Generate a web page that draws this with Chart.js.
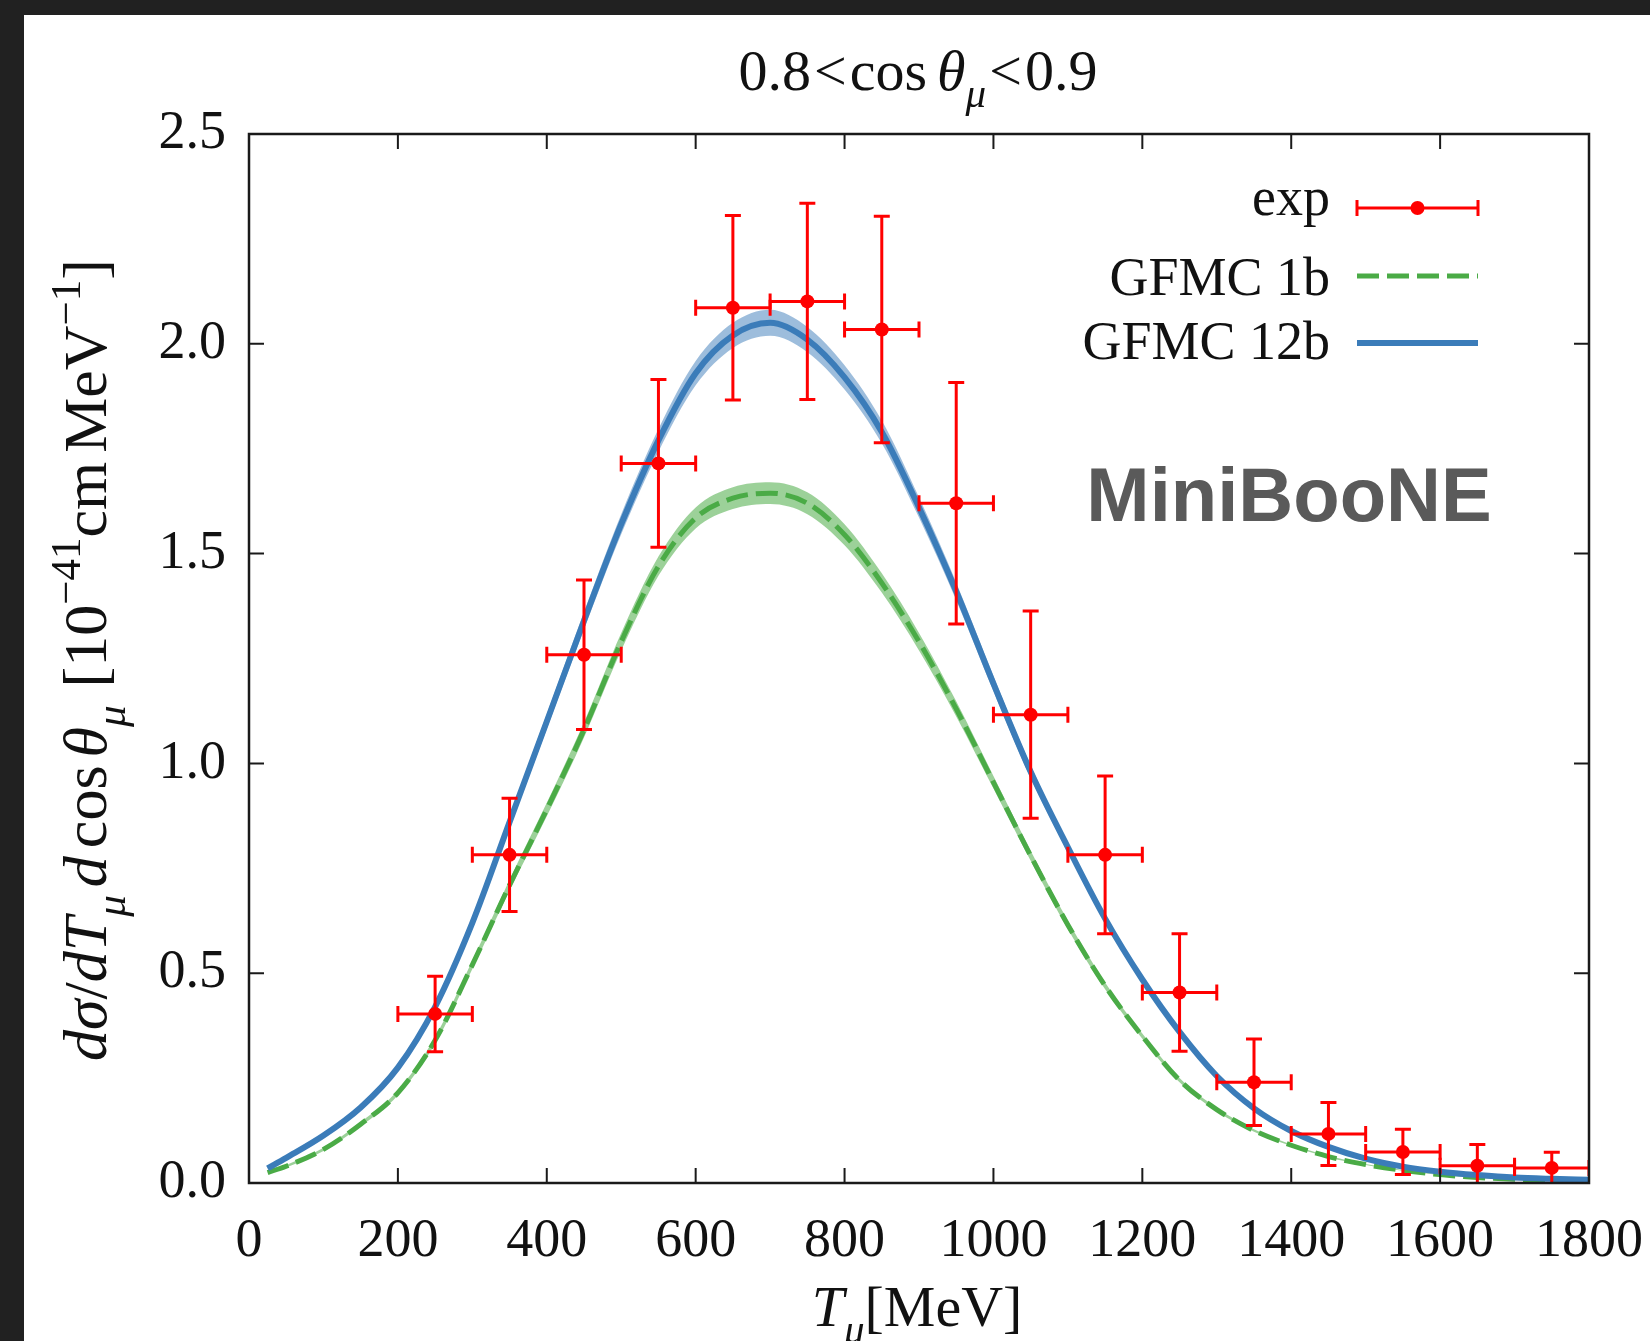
<!DOCTYPE html>
<html>
<head>
<meta charset="utf-8">
<script src="https://cdn.jsdelivr.net/npm/chart.js@4.4.1/dist/chart.umd.min.js"></script>
<style>
  html, body { margin: 0; padding: 0; background: #212121; }
  #chart { position: absolute; left: 0; top: 0; }
</style>
</head>
<body>
<canvas id="chart" width="1650" height="1341"></canvas>
<script>
// axis ticks
const xTicks = [0, 200, 400, 600, 800, 1000, 1200, 1400, 1600, 1800];
const yTicks = [0, 0.5, 1.0, 1.5, 2.0, 2.5];

// MiniBooNE data, 0.8 < cos < 0.9
const expT = [250, 350, 450, 550, 650, 750, 850, 950, 1050, 1150, 1250, 1350, 1450, 1550, 1650, 1750];
const expV = [0.403, 0.782, 1.259, 1.715, 2.086, 2.101, 2.034, 1.62, 1.116, 0.782, 0.454, 0.24, 0.117, 0.074, 0.041, 0.036];
const expErr = [0.09, 0.135, 0.178, 0.2, 0.22, 0.234, 0.27, 0.288, 0.247, 0.188, 0.14, 0.103, 0.075, 0.054, 0.051, 0.037];
const expXErr = [50, 50, 50, 50, 50, 50, 50, 50, 50, 50, 50, 50, 50, 50, 50, 50];

// GFMC curves
const modelT = [25, 50, 100, 150, 200, 250, 300, 350, 400, 450, 500, 550, 600, 650, 700, 750, 800, 850, 900,
  950, 1000, 1050, 1100, 1150, 1200, 1250, 1300, 1350, 1400, 1450, 1500, 1550, 1600, 1650, 1700, 1750, 1800];
const gfmc12b = [0.035, 0.06, 0.113, 0.18, 0.275, 0.42, 0.62, 0.86, 1.10, 1.34, 1.57, 1.77, 1.93, 2.02, 2.05, 2.01, 1.92, 1.79, 1.61,
  1.41, 1.19, 0.98, 0.80, 0.63, 0.485, 0.36, 0.255, 0.178, 0.124, 0.086, 0.058, 0.039, 0.027, 0.019, 0.013, 0.010, 0.008];
const gfmc12bBand = [0.002, 0.003, 0.004, 0.005, 0.007, 0.009, 0.012, 0.015, 0.018, 0.021, 0.024, 0.027, 0.029, 0.03, 0.031, 0.03, 0.029, 0.027, 0.024,
  0.021, 0.018, 0.015, 0.012, 0.01, 0.008, 0.006, 0.005, 0.004, 0.003, 0.002, 0.002, 0.001, 0.001, 0.001, 0.001, 0.001, 0.001];
const gfmc1b = [0.025, 0.04, 0.08, 0.14, 0.215, 0.34, 0.52, 0.71, 0.89, 1.08, 1.29, 1.47, 1.585, 1.632, 1.644, 1.62, 1.545, 1.43, 1.29,
  1.13, 0.955, 0.78, 0.615, 0.47, 0.35, 0.245, 0.175, 0.125, 0.09, 0.063, 0.044, 0.03, 0.02, 0.013, 0.009, 0.006, 0.004];
const gfmc1bBand = [0.002, 0.003, 0.004, 0.005, 0.006, 0.008, 0.01, 0.013, 0.016, 0.018, 0.021, 0.023, 0.025, 0.026, 0.026, 0.026, 0.025, 0.023, 0.021,
  0.018, 0.015, 0.012, 0.01, 0.008, 0.006, 0.005, 0.004, 0.003, 0.002, 0.002, 0.001, 0.001, 0.001, 0.001, 0.001, 0.001, 0.001];

const legendLabels = ["exp", "GFMC 1b", "GFMC 12b"];

const RED = "#ff0000";
const BLUE = "#3b7cb9";
const GREEN = "#4aab46";
const SERIF = "'Liberation Serif', 'Times New Roman', serif";

function pts(xs, ys) {
  return xs.map((x, i) => ({ x: x, y: ys[i] }));
}
function shifted(ys, band, sign) {
  return ys.map((v, i) => v + sign * band[i]);
}

// --- small text helper for sub/superscripts
function fontOf(p, size) {
  return (p.i ? "italic " : "") + Math.round(size * (p.s || 1)) + "px " + SERIF;
}
function drawRich(ctx, parts, x, y, size) {
  let w = 0;
  parts.forEach(p => {
    ctx.font = fontOf(p, size);
    w += ctx.measureText(p.t).width + (p.gap || 0);
  });
  let cx = x - w / 2;
  ctx.textAlign = "left";
  ctx.textBaseline = "alphabetic";
  parts.forEach(p => {
    ctx.font = fontOf(p, size);
    ctx.fillText(p.t, cx, y + (p.dy || 0) * size);
    cx += ctx.measureText(p.t).width + (p.gap || 0);
  });
}

const background = {
  id: "background",
  beforeDraw(chart) {
    const ctx = chart.ctx;
    ctx.save();
    ctx.fillStyle = "#212121";
    ctx.fillRect(0, 0, chart.width, chart.height);
    ctx.fillStyle = "#ffffff";
    ctx.fillRect(24, 15, chart.width - 24, chart.height - 15);
    ctx.restore();
  }
};

const errorBars = {
  id: "errorBars",
  afterDatasetsDraw(chart) {
    const { ctx, chartArea } = chart;
    const x = chart.scales.x, y = chart.scales.y;
    const cap = 8;
    ctx.save();
    ctx.beginPath();
    ctx.rect(chartArea.left, chartArea.top, chartArea.width, chartArea.height);
    ctx.clip();
    ctx.strokeStyle = RED;
    ctx.lineWidth = 3;
    expT.forEach((t, i) => {
      const px = x.getPixelForValue(t);
      const py = y.getPixelForValue(expV[i]);
      const x0 = x.getPixelForValue(t - expXErr[i]);
      const x1 = x.getPixelForValue(t + expXErr[i]);
      const y0 = y.getPixelForValue(expV[i] - expErr[i]);
      const y1 = y.getPixelForValue(expV[i] + expErr[i]);
      ctx.beginPath();
      ctx.moveTo(x0, py); ctx.lineTo(x1, py);
      ctx.moveTo(x0, py - cap); ctx.lineTo(x0, py + cap);
      ctx.moveTo(x1, py - cap); ctx.lineTo(x1, py + cap);
      ctx.moveTo(px, y0); ctx.lineTo(px, y1);
      ctx.moveTo(px - cap, y0); ctx.lineTo(px + cap, y0);
      ctx.moveTo(px - cap, y1); ctx.lineTo(px + cap, y1);
      ctx.stroke();
    });
    ctx.restore();
  }
};

const frame = {
  id: "frame",
  afterDatasetsDraw(chart) {
    const { ctx, chartArea: a } = chart;
    const x = chart.scales.x, y = chart.scales.y;
    const len = 15;
    ctx.save();
    ctx.strokeStyle = "#1a1a1a";
    ctx.lineWidth = 2.5;
    ctx.strokeRect(a.left, a.top, a.width, a.height);
    ctx.lineWidth = 2;
    ctx.beginPath();
    xTicks.forEach(v => {
      const px = x.getPixelForValue(v);
      ctx.moveTo(px, a.bottom); ctx.lineTo(px, a.bottom - len);
      ctx.moveTo(px, a.top); ctx.lineTo(px, a.top + len);
    });
    yTicks.forEach(v => {
      const py = y.getPixelForValue(v);
      ctx.moveTo(a.left, py); ctx.lineTo(a.left + len, py);
      ctx.moveTo(a.right, py); ctx.lineTo(a.right - len, py);
    });
    ctx.stroke();
    ctx.restore();
  }
};

const texts = {
  id: "texts",
  afterDraw(chart) {
    const ctx = chart.ctx;
    ctx.save();
    ctx.fillStyle = "#111111";

    // title
    drawRich(ctx, [
      { t: "0.8", gap: 3 }, { t: "<", gap: 3 }, { t: "cos", gap: 10 },
      { t: "θ", i: 1 }, { t: "μ", i: 1, s: 0.7, dy: 0.3, gap: 3 },
      { t: "<", gap: 3 }, { t: "0.9" }
    ], 918, 90, 58);

    // x title
    drawRich(ctx, [
      { t: "T", i: 1 }, { t: "μ", i: 1, s: 0.7, dy: 0.3 }, { t: "[MeV]" }
    ], 917, 1326, 58);

    // y title
    ctx.save();
    ctx.translate(106, 660);
    ctx.rotate(-Math.PI / 2);
    drawRich(ctx, [
      { t: "d", i: 1 }, { t: "σ", i: 1 }, { t: "/" }, { t: "dT", i: 1 },
      { t: "μ", i: 1, s: 0.7, dy: 0.3, gap: 8 },
      { t: "d", i: 1, gap: 8 }, { t: "cos", gap: 8 }, { t: "θ", i: 1 },
      { t: "μ", i: 1, s: 0.7, dy: 0.3, gap: 18 },
      { t: "[10" }, { t: "−41", s: 0.7, dy: -0.42 }, { t: "cm", gap: 9 },
      { t: "MeV" }, { t: "−1", s: 0.7, dy: -0.42 }, { t: "]" }
    ], 0, 0, 62);
    ctx.restore();

    // legend
    const textRight = 1330, s0 = 1357, s1 = 1478;
    const baseY = [215, 295, 359];
    const lineY = [208, 276, 343];
    ctx.font = "54px " + SERIF;
    ctx.textAlign = "right";
    ctx.textBaseline = "alphabetic";
    legendLabels.forEach((lab, i) => ctx.fillText(lab, textRight, baseY[i]));

    ctx.strokeStyle = RED;
    ctx.lineWidth = 3;
    ctx.beginPath();
    ctx.moveTo(s0, lineY[0]); ctx.lineTo(s1, lineY[0]);
    ctx.moveTo(s0, lineY[0] - 8); ctx.lineTo(s0, lineY[0] + 8);
    ctx.moveTo(s1, lineY[0] - 8); ctx.lineTo(s1, lineY[0] + 8);
    ctx.stroke();
    ctx.fillStyle = RED;
    ctx.beginPath();
    ctx.arc((s0 + s1) / 2, lineY[0], 7, 0, Math.PI * 2);
    ctx.fill();

    ctx.strokeStyle = GREEN;
    ctx.lineWidth = 5;
    ctx.setLineDash([22, 8]);
    ctx.beginPath();
    ctx.moveTo(s0, lineY[1]); ctx.lineTo(s1, lineY[1]);
    ctx.stroke();
    ctx.setLineDash([]);

    ctx.strokeStyle = BLUE;
    ctx.lineWidth = 6;
    ctx.beginPath();
    ctx.moveTo(s0, lineY[2]); ctx.lineTo(s1, lineY[2]);
    ctx.stroke();

    // experiment label
    ctx.fillStyle = "#5a5a5a";
    ctx.font = "bold 76px 'Liberation Sans', Arial, sans-serif";
    ctx.textAlign = "center";
    ctx.fillText("MiniBooNE", 1289, 521);
    ctx.restore();
  }
};

new Chart(document.getElementById("chart"), {
  type: "line",
  data: {
    datasets: [
      {
        label: legendLabels[0],
        data: pts(expT, expV),
        showLine: false,
        pointRadius: 7,
        pointHoverRadius: 7,
        pointBackgroundColor: RED,
        pointBorderWidth: 0,
        borderColor: RED
      },
      {
        label: legendLabels[2],
        data: pts(modelT, gfmc12b),
        borderColor: BLUE,
        borderWidth: 6,
        pointRadius: 0,
        cubicInterpolationMode: "monotone",
        fill: false
      },
      {
        label: legendLabels[1],
        data: pts(modelT, gfmc1b),
        borderColor: GREEN,
        borderWidth: 5,
        borderDash: [22, 8],
        pointRadius: 0,
        cubicInterpolationMode: "monotone",
        fill: false
      },
      {
        label: "12b band hi",
        data: pts(modelT, shifted(gfmc12b, gfmc12bBand, 1)),
        borderWidth: 0,
        pointRadius: 0,
        cubicInterpolationMode: "monotone",
        backgroundColor: "rgba(59,124,185,0.5)",
        fill: 4
      },
      {
        label: "12b band lo",
        data: pts(modelT, shifted(gfmc12b, gfmc12bBand, -1)),
        borderWidth: 0,
        pointRadius: 0,
        cubicInterpolationMode: "monotone",
        fill: false
      },
      {
        label: "1b band hi",
        data: pts(modelT, shifted(gfmc1b, gfmc1bBand, 1)),
        borderWidth: 0,
        pointRadius: 0,
        cubicInterpolationMode: "monotone",
        backgroundColor: "rgba(74,171,70,0.55)",
        fill: 6
      },
      {
        label: "1b band lo",
        data: pts(modelT, shifted(gfmc1b, gfmc1bBand, -1)),
        borderWidth: 0,
        pointRadius: 0,
        cubicInterpolationMode: "monotone",
        fill: false
      }
    ]
  },
  options: {
    responsive: false,
    animation: false,
    devicePixelRatio: 1,
    layout: {
      padding: { left: 0, right: 61, top: 134, bottom: 0 }
    },
    plugins: {
      legend: { display: false },
      tooltip: { enabled: false },
      title: { display: false }
    },
    scales: {
      x: {
        type: "linear",
        min: 0,
        max: 1800,
        afterBuildTicks: s => { s.ticks = xTicks.map(v => ({ value: v })); },
        afterFit: s => {
          s.height = 158;
          s.paddingLeft = 0;
          s.paddingRight = 0;
        },
        grid: { display: false, drawTicks: false },
        border: { display: false },
        ticks: {
          color: "#111111",
          font: { family: SERIF, size: 54 },
          padding: 26,
          maxRotation: 0,
          autoSkip: false,
          callback: v => String(v)
        }
      },
      y: {
        type: "linear",
        min: 0,
        max: 2.5,
        afterBuildTicks: s => { s.ticks = yTicks.map(v => ({ value: v })); },
        afterFit: s => {
          s.width = 249;
          s.paddingTop = 0;
          s.paddingBottom = 0;
        },
        grid: { display: false, drawTicks: false },
        border: { display: false },
        ticks: {
          color: "#111111",
          font: { family: SERIF, size: 54 },
          padding: 23,
          autoSkip: false,
          callback: v => v.toFixed(1)
        }
      }
    }
  },
  plugins: [background, errorBars, frame, texts]
});
</script>
</body>
</html>
